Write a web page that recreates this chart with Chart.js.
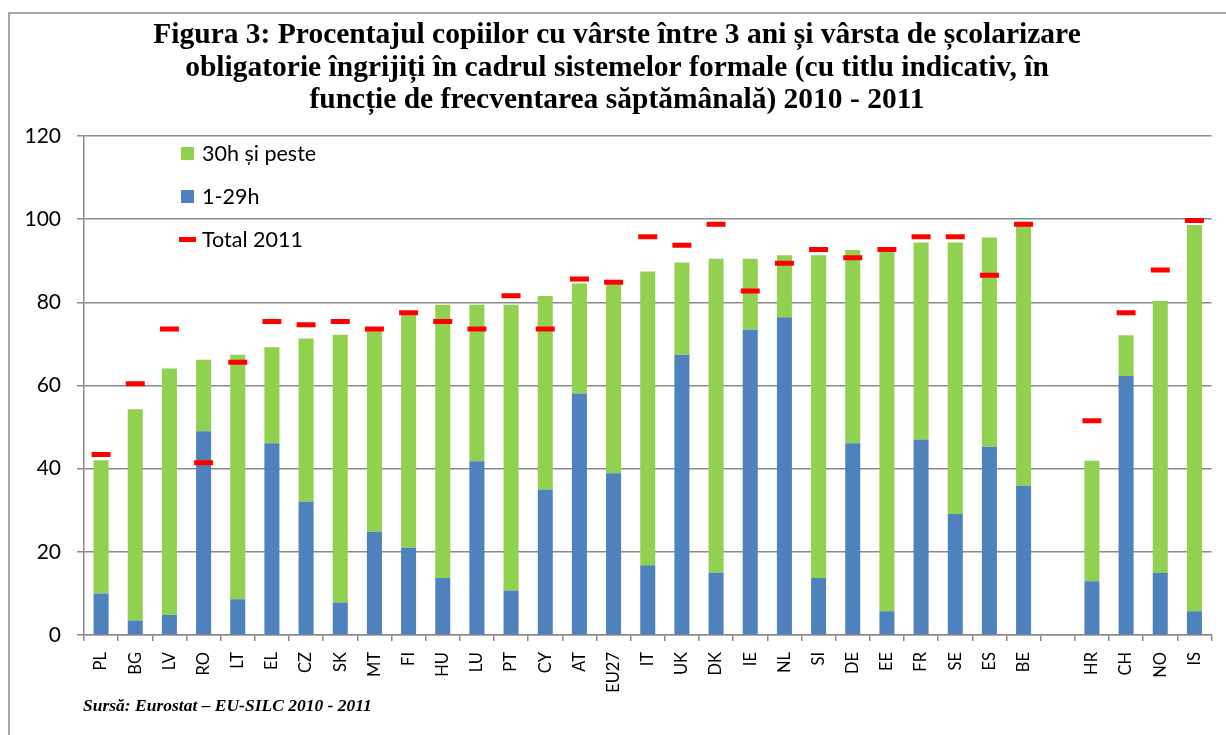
<!DOCTYPE html>
<html>
<head>
<meta charset="utf-8">
<script src="https://cdn.jsdelivr.net/npm/chart.js@4/dist/chart.umd.min.js"></script>
<style>
  body { margin: 0; background: #fff; }
  #wrap { width: 1226px; height: 735px; }
</style>
</head>
<body>
<div id="wrap"><canvas id="chart" width="1226" height="735"></canvas></div>
<script>
const countries = ['PL', 'BG', 'LV', 'RO', 'LT', 'EL', 'CZ', 'SK', 'MT', 'FI', 'HU', 'LU', 'PT', 'CY', 'AT', 'EU27',
  'IT', 'UK', 'DK', 'IE', 'NL', 'SI', 'DE', 'EE', 'FR', 'SE', 'ES', 'BE', '', 'HR', 'CH', 'NO', 'IS'];

// 1-29h pe săptămână
const hours1to29 = [10, 3.5, 4.8, 49, 8.6, 46.1, 32.1, 7.8, 24.8, 21, 13.7, 41.8, 10.7, 35, 58.1, 38.9,
  16.8, 67.4, 15, 73.4, 76.4, 13.7, 46.1, 5.7, 47, 29.1, 45.3, 35.9, null, 12.9, 62.3, 15, 5.7];

// 30h și peste
const hours30plus = [32, 50.8, 59.3, 17.2, 58.8, 23.1, 39.2, 64.4, 48.4, 56.1, 65.7, 37.6, 68.7, 46.5, 26.4, 45.4,
  70.6, 22.2, 75.5, 17.1, 14.9, 77.6, 46.5, 86.5, 47.4, 65.3, 50.3, 62.6, null, 29, 9.8, 65.3, 92.9];

const total2011 = [43.4, 60.4, 73.6, 41.4, 65.6, 75.4, 74.6, 75.4, 73.6, 77.5, 75.4, 73.6, 81.6, 73.6, 85.6, 84.8,
  95.8, 93.7, 98.8, 82.7, 89.4, 92.7, 90.7, 92.7, 95.8, 95.8, 86.5, 98.8, null, 51.5, 77.5, 87.8, 99.7];

const titleLines = [
  'Figura 3: Procentajul copiilor cu vârste între 3 ani și vârsta de școlarizare',
  'obligatorie îngrijiți în cadrul sistemelor formale (cu titlu indicativ, în',
  'funcție de frecventarea săptămânală) 2010 - 2011'
];
const sourceText = 'Sursă: Eurostat – EU-SILC 2010 - 2011';

const BLUE = '#4f81bd';
const GREEN = '#92d050';
const RED = '#ff0000';
const GRID = '#8a8a8a';
const SANS = 'Lato, "Open Sans", sans-serif';
const SERIF = '"Liberation Serif", "DejaVu Serif", serif';

// frame, title, legend and source drawn on the canvas
const decorations = {
  id: 'decorations',
  beforeDraw(chart) {
    const ctx = chart.ctx;
    ctx.save();
    ctx.fillStyle = '#fff';
    ctx.fillRect(0, 0, chart.width, chart.height);
    ctx.strokeStyle = GRID;
    ctx.lineWidth = 1.5;
    ctx.beginPath();
    ctx.moveTo(9, chart.height);
    ctx.lineTo(9, 13);
    ctx.lineTo(chart.width, 13);
    ctx.stroke();
    ctx.restore();
  },
  afterDraw(chart) {
    const ctx = chart.ctx;
    ctx.save();
    ctx.fillStyle = '#000';
    ctx.textAlign = 'center';
    ctx.textBaseline = 'alphabetic';
    ctx.font = 'bold 29.5px ' + SERIF;
    titleLines.forEach((line, i) => ctx.fillText(line, 617, 43 + i * 32.5));

    ctx.textAlign = 'left';
    ctx.font = 'italic bold 17.5px ' + SERIF;
    ctx.fillText(sourceText, 83, 711);

    // legend
    const lx = 181;
    ctx.font = '21.5px ' + SANS;
    ctx.textBaseline = 'middle';
    ctx.fillStyle = GREEN;
    ctx.fillRect(lx, 147, 13, 13);
    ctx.fillStyle = BLUE;
    ctx.fillRect(lx, 190, 13, 13);
    ctx.fillStyle = RED;
    ctx.fillRect(lx - 2, 237, 17, 5);
    ctx.fillStyle = '#000';
    ctx.fillText('30h și peste', 202, 154);
    ctx.fillText('1-29h', 202, 197);
    ctx.fillText('Total 2011', 202, 240);
    ctx.restore();
  }
};

const ctx = document.getElementById('chart').getContext('2d');
new Chart(ctx, {
  type: 'bar',
  data: {
    labels: countries,
    datasets: [
      {
        label: 'Total 2011',
        type: 'line',
        data: total2011,
        stack: 'total',
        showLine: false,
        pointStyle: 'line',
        pointRadius: 9.5,
        pointHoverRadius: 9.5,
        borderColor: RED,
        backgroundColor: RED,
        borderWidth: 5,
        order: 0
      },
      {
        label: '1-29h',
        data: hours1to29,
        stack: 'bars',
        backgroundColor: BLUE,
        barPercentage: 1,
        categoryPercentage: 0.44,
        order: 1
      },
      {
        label: '30h și peste',
        data: hours30plus,
        stack: 'bars',
        backgroundColor: GREEN,
        barPercentage: 1,
        categoryPercentage: 0.44,
        order: 1
      }
    ]
  },
  options: {
    responsive: false,
    animation: false,
    layout: { padding: { top: 136, left: 0, right: 4, bottom: 0 } },
    plugins: {
      legend: { display: false },
      title: { display: false },
      tooltip: { enabled: false }
    },
    scales: {
      x: {
        stacked: true,
        grid: { display: true, drawOnChartArea: false, drawTicks: true, tickLength: 6, color: GRID, lineWidth: 1.5, offset: true },
        border: { display: true, color: GRID, width: 1.5 },
        ticks: { autoSkip: false, maxRotation: 90, minRotation: 90, padding: 11, color: '#000', font: { family: SANS, size: 16.5 } },
        afterFit(scale) { scale.height = 100; }
      },
      y: {
        stacked: true,
        min: 0,
        max: 120,
        grid: { color: GRID, lineWidth: 1.5, tickLength: 7 },
        border: { display: true, color: GRID, width: 1.5 },
        ticks: { stepSize: 20, padding: 16, color: '#000', font: { family: SANS, size: 21 } },
        afterFit(scale) { scale.width = 84; }
      }
    }
  },
  plugins: [decorations]
});
</script>
</body>
</html>
